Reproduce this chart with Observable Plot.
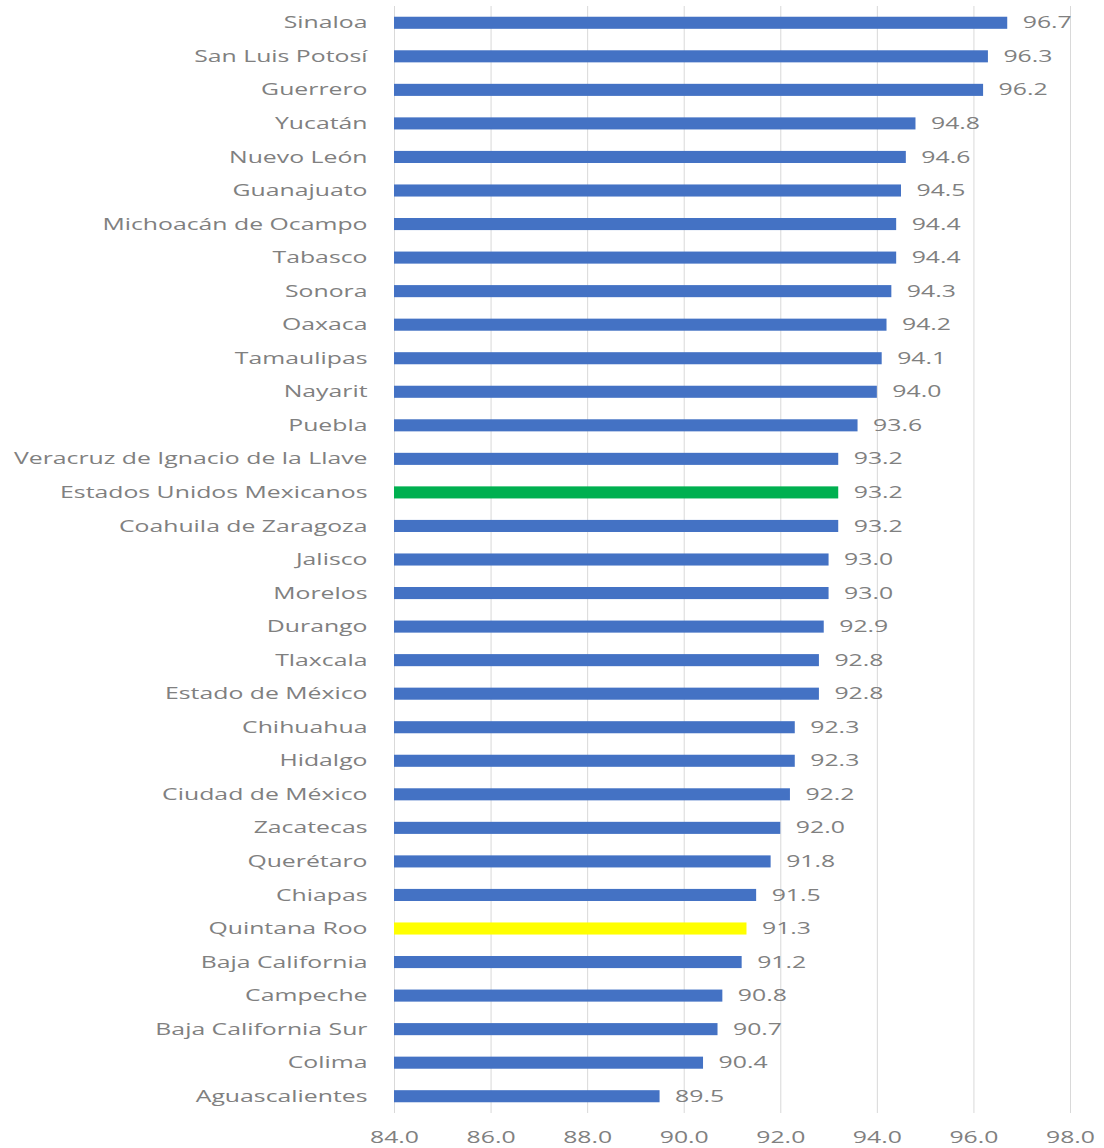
<!DOCTYPE html>
<html>
<head>
<meta charset="utf-8">
<script src="https://cdn.jsdelivr.net/npm/d3@7"></script>
<script src="https://cdn.jsdelivr.net/npm/@observablehq/plot@0.6"></script>
<style>
  html, body { margin: 0; padding: 0; background: #ffffff; }
  #chart { width: 1104px; height: 1148px; }
</style>
</head>
<body>
<div id="chart"></div>
<script>
const states = [
  "Sinaloa", "San Luis Potosí", "Guerrero", "Yucatán", "Nuevo León", "Guanajuato",
  "Michoacán de Ocampo", "Tabasco", "Sonora", "Oaxaca", "Tamaulipas", "Nayarit",
  "Puebla", "Veracruz de Ignacio de la Llave", "Estados Unidos Mexicanos",
  "Coahuila de Zaragoza", "Jalisco", "Morelos", "Durango", "Tlaxcala",
  "Estado de México", "Chihuahua", "Hidalgo", "Ciudad de México", "Zacatecas",
  "Querétaro", "Chiapas", "Quintana Roo", "Baja California", "Campeche",
  "Baja California Sur", "Colima", "Aguascalientes"
];
const values = [
  96.7, 96.3, 96.2, 94.8, 94.6, 94.5,
  94.4, 94.4, 94.3, 94.2, 94.1, 94.0,
  93.6, 93.2, 93.2,
  93.2, 93.0, 93.0, 92.9, 92.8,
  92.8, 92.3, 92.3, 92.2, 92.0,
  91.8, 91.5, 91.3, 91.2, 90.8,
  90.7, 90.4, 89.5
];
const highlights = { "Estados Unidos Mexicanos": "#00B050", "Quintana Roo": "#FFFF00" };
const xTicks = [84, 86, 88, 90, 92, 94, 96, 98];

const data = states.map((s, i) => ({ state: s, value: values[i], color: highlights[s] || "#4472C4" }));

const textColor = "#808080";
const chart = Plot.plot({
  width: 1104,
  height: 1148,
  marginLeft: 394,
  marginRight: 34,
  marginTop: 6,
  marginBottom: 35,
  style: { fontFamily: "Open Sans, sans-serif", fontSize: "16px", color: textColor, background: "#ffffff" },
  x: { domain: [84, 98], ticks: xTicks, tickFormat: d => d.toFixed(1), label: null },
  y: { domain: states, paddingInner: 0.64, paddingOuter: 0.32, round: false, label: null },
  marks: [
    Plot.gridX(xTicks, { stroke: "#d9d9d9", strokeOpacity: 1, strokeWidth: 1 }),
    Plot.barX(data, { x1: 84, x2: "value", y: "state", fill: "color" }),
    Plot.text(data, { x: "value", y: "state", text: d => d.value.toFixed(1), textAnchor: "start", dx: 15, fill: textColor, fontSize: 16 }),
    Plot.axisX(xTicks, { tickSize: 0, tickPadding: 18, tickFormat: d => d.toFixed(1), fill: textColor, fontSize: 16 }),
    Plot.axisY({ tickSize: 0, tickPadding: 27, fill: textColor, fontSize: 16 })
  ]
});

// The reference's lettering is horizontally stretched; widen each label about its anchor.
const stretch = 1.55;
d3.select(chart).selectAll("text").each(function () {
  const t = this.getAttribute("transform");
  if (t) {
    this.setAttribute("transform", t + ` scale(${stretch},1)`);
  } else {
    const x = +this.getAttribute("x") || 0;
    const y = +this.getAttribute("y") || 0;
    this.removeAttribute("x");
    this.removeAttribute("y");
    this.setAttribute("transform", `translate(${x},${y}) scale(${stretch},1)`);
  }
});
document.getElementById("chart").appendChild(chart);
</script>
</body>
</html>
